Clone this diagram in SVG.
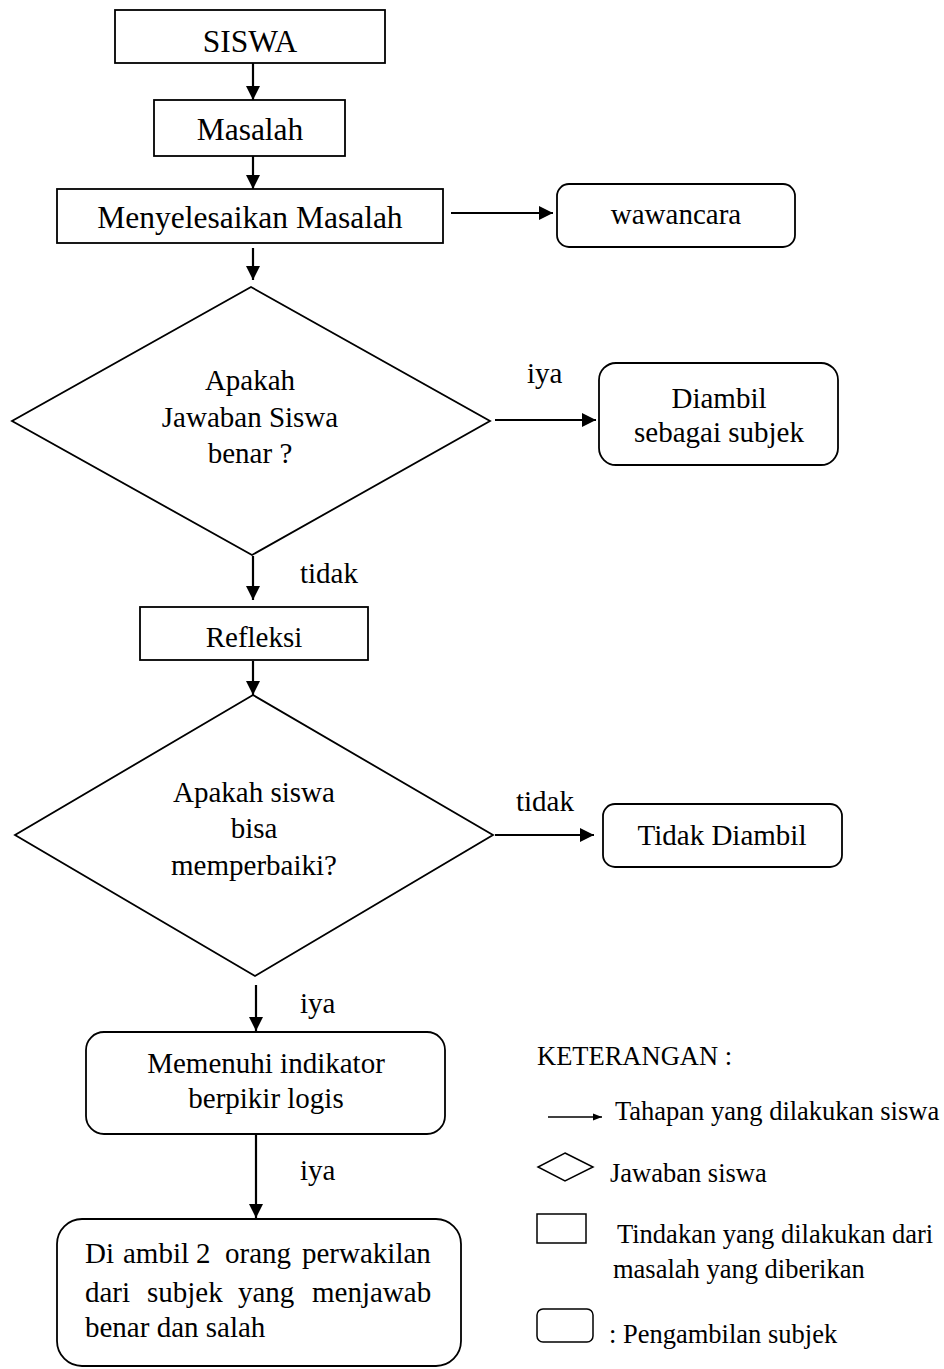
<svg xmlns="http://www.w3.org/2000/svg" width="944" height="1369" viewBox="0 0 944 1369">
<style>
.box{fill:#fff;stroke:#000;stroke-width:1.8}
.ln{fill:none;stroke:#000;stroke-width:2.2}
.t{font-family:"Liberation Serif","Times New Roman",serif;font-size:29px;fill:#000}
.tb{font-family:"Liberation Serif","Times New Roman",serif;font-size:31.5px;fill:#000}
.tl{font-family:"Liberation Serif","Times New Roman",serif;font-size:26.5px;fill:#000}
.c{text-anchor:middle}
</style>
<defs>
<marker id="ah" markerUnits="userSpaceOnUse" markerWidth="16" markerHeight="14" refX="14" refY="7" orient="auto">
<path d="M0,0 L14,7 L0,14 Z" fill="#000"/>
</marker>
<marker id="ahs" markerUnits="userSpaceOnUse" markerWidth="10" markerHeight="8" refX="9" refY="4" orient="auto">
<path d="M0,0.5 L9,4 L0,7.5 Z" fill="#000"/>
</marker>
</defs>
<rect width="944" height="1369" fill="#fff"/>

<g id="connectors">
<line class="ln" x1="253" y1="63" x2="253" y2="100" marker-end="url(#ah)"/>
<line class="ln" x1="253" y1="156" x2="253" y2="189" marker-end="url(#ah)"/>
<line class="ln" x1="451" y1="213" x2="553" y2="213" marker-end="url(#ah)"/>
<line class="ln" x1="253" y1="248" x2="253" y2="280" marker-end="url(#ah)"/>
<line class="ln" x1="495" y1="420" x2="596" y2="420" marker-end="url(#ah)"/>
<line class="ln" x1="253" y1="556" x2="253" y2="600" marker-end="url(#ah)"/>
<line class="ln" x1="253" y1="661" x2="253" y2="695" marker-end="url(#ah)"/>
<line class="ln" x1="495" y1="835" x2="594" y2="835" marker-end="url(#ah)"/>
<line class="ln" x1="256" y1="985" x2="256" y2="1031" marker-end="url(#ah)"/>
<line class="ln" x1="256" y1="1134" x2="256" y2="1218" marker-end="url(#ah)"/>
<text class="t" x="527" y="383">iya</text>
<text class="t" x="300" y="583">tidak</text>
<text class="t" x="516" y="811">tidak</text>
<text class="t" x="300" y="1013">iya</text>
<text class="t" x="300" y="1180">iya</text>
</g>

<g id="siswa">
<rect class="box" x="115" y="10" width="270" height="53"/>
<text class="tb c" x="250" y="52">SISWA</text>
</g>
<g id="masalah">
<rect class="box" x="154" y="100" width="191" height="56"/>
<text class="tb c" x="250" y="140">Masalah</text>
</g>
<g id="menyelesaikan">
<rect class="box" x="57" y="189" width="386" height="54"/>
<text class="tb c" x="250" y="228">Menyelesaikan Masalah</text>
</g>
<g id="wawancara">
<rect class="box" x="557" y="184" width="238" height="63" rx="12"/>
<text class="t c" x="676" y="224">wawancara</text>
</g>
<g id="decision1">
<polygon class="box" points="251,287 490,421 252,555 12,421"/>
<text class="t c" x="250" y="390">Apakah</text>
<text class="t c" x="250" y="427">Jawaban Siswa</text>
<text class="t c" x="250" y="463">benar ?</text>
</g>
<g id="diambil">
<rect class="box" x="599" y="363" width="239" height="102" rx="17"/>
<text class="t c" x="719" y="408">Diambil</text>
<text class="t c" x="719" y="442">sebagai subjek</text>
</g>
<g id="refleksi">
<rect class="box" x="140" y="607" width="228" height="53"/>
<text class="t c" x="254" y="647">Refleksi</text>
</g>
<g id="decision2">
<polygon class="box" points="253,695 493,835 255,976 15,835"/>
<text class="t c" x="254" y="802">Apakah siswa</text>
<text class="t c" x="254" y="838">bisa</text>
<text class="t c" x="254" y="875">memperbaiki?</text>
</g>
<g id="tidak-diambil">
<rect class="box" x="603" y="804" width="239" height="63" rx="12"/>
<text class="t c" x="722" y="845">Tidak Diambil</text>
</g>
<g id="memenuhi">
<rect class="box" x="86" y="1032" width="359" height="102" rx="18"/>
<text class="t c" x="266" y="1073">Memenuhi indikator</text>
<text class="t c" x="266" y="1108">berpikir logis</text>
</g>
<g id="diambil-2-orang">
<rect class="box" x="57" y="1219" width="404" height="147" rx="25"/>
<text class="t" y="1263"><tspan x="85">Di</tspan><tspan x="123">ambil</tspan><tspan x="196">2</tspan><tspan x="225">orang</tspan><tspan x="302">perwakilan</tspan></text>
<text class="t" y="1302"><tspan x="85">dari</tspan><tspan x="147">subjek</tspan><tspan x="238">yang</tspan><tspan x="312">menjawab</tspan></text>
<text class="t" x="85" y="1337">benar dan salah</text>
</g>

<g id="legend">
<text class="tl" x="537" y="1065">KETERANGAN :</text>
<line x1="548" y1="1117" x2="602" y2="1117" stroke="#000" stroke-width="1.5" marker-end="url(#ahs)"/>
<text class="tl" x="615" y="1120">Tahapan yang dilakukan siswa</text>
<polygon class="box" points="565,1153 593,1167 565,1181 538,1167" style="stroke-width:1.5"/>
<text class="tl" x="610" y="1182">Jawaban siswa</text>
<rect class="box" x="537" y="1214" width="49" height="29" style="stroke-width:1.5"/>
<text class="tl" x="617" y="1243">Tindakan yang dilakukan dari</text>
<text class="tl" x="613" y="1278">masalah yang diberikan</text>
<rect class="box" x="537" y="1309" width="56" height="33" rx="6" style="stroke-width:1.5"/>
<text class="tl" x="609" y="1343">: Pengambilan subjek</text>
</g>
</svg>
